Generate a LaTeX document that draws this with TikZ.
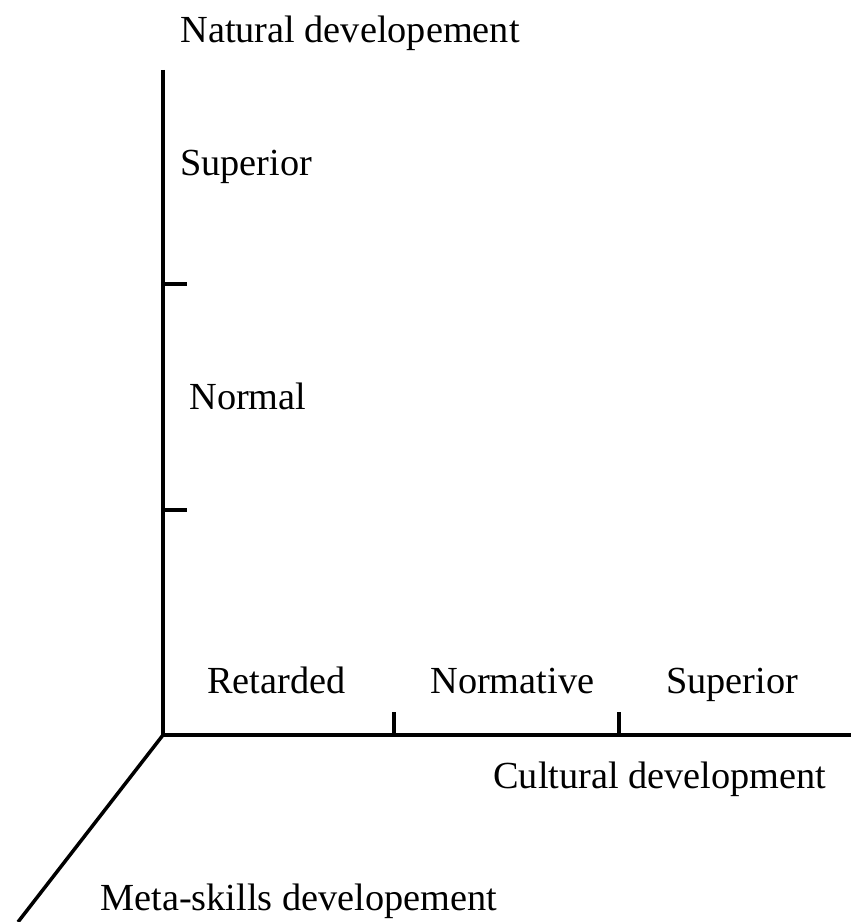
\documentclass[tikz,border=0pt]{standalone}
\usepackage{fontspec}
\setmainfont{Liberation Serif}
\usetikzlibrary{positioning}

\begin{document}
\begin{tikzpicture}[x=0.02cm,y=-0.02cm,
 axis/.style={line width=2pt},
 lab/.style={anchor=base west,inner sep=0pt,font=\fontsize{21.8}{26}\selectfont}]
 \useasboundingbox (0,0) rectangle (851,922);
 % axes
 \coordinate (O) at (163,735);
 \coordinate (ytop) at (163,70);
 \coordinate (xend) at (851,735);
 \coordinate (zend) at (18,922);
 \draw[axis] (ytop)--(O)--(xend);
 \draw[axis] (O)--(zend);
 % ticks
 \coordinate (ytickA) at (163,284);
 \coordinate (ytickB) at (163,510);
 \coordinate (xtickA) at (394,735);
 \coordinate (xtickB) at (619,735);
 \draw[axis] (ytickA)--++(24,0);
 \draw[axis] (ytickB)--++(24,0);
 \draw[axis] (xtickA)--++(0,-23);
 \draw[axis] (xtickB)--++(0,-23);
 % labels
 \node[lab] (natural) at (180,43) {Natural developement};
 \node[lab] (ysup) at (180,175) {Superior};
 \node[lab] (ynorm) at (189,409) {Normal};
 \node[lab] (xret) at (207,693) {Retarded};
 \node[lab] (xnorm) at (430,693) {Normative};
 \node[lab] (xsup) at (666,693) {Superior};
 \node[lab] (cultural) at (493,788) {Cultural development};
 \node[lab] (meta) at (100,910) {Meta-skills developement};
\end{tikzpicture}
\end{document}
